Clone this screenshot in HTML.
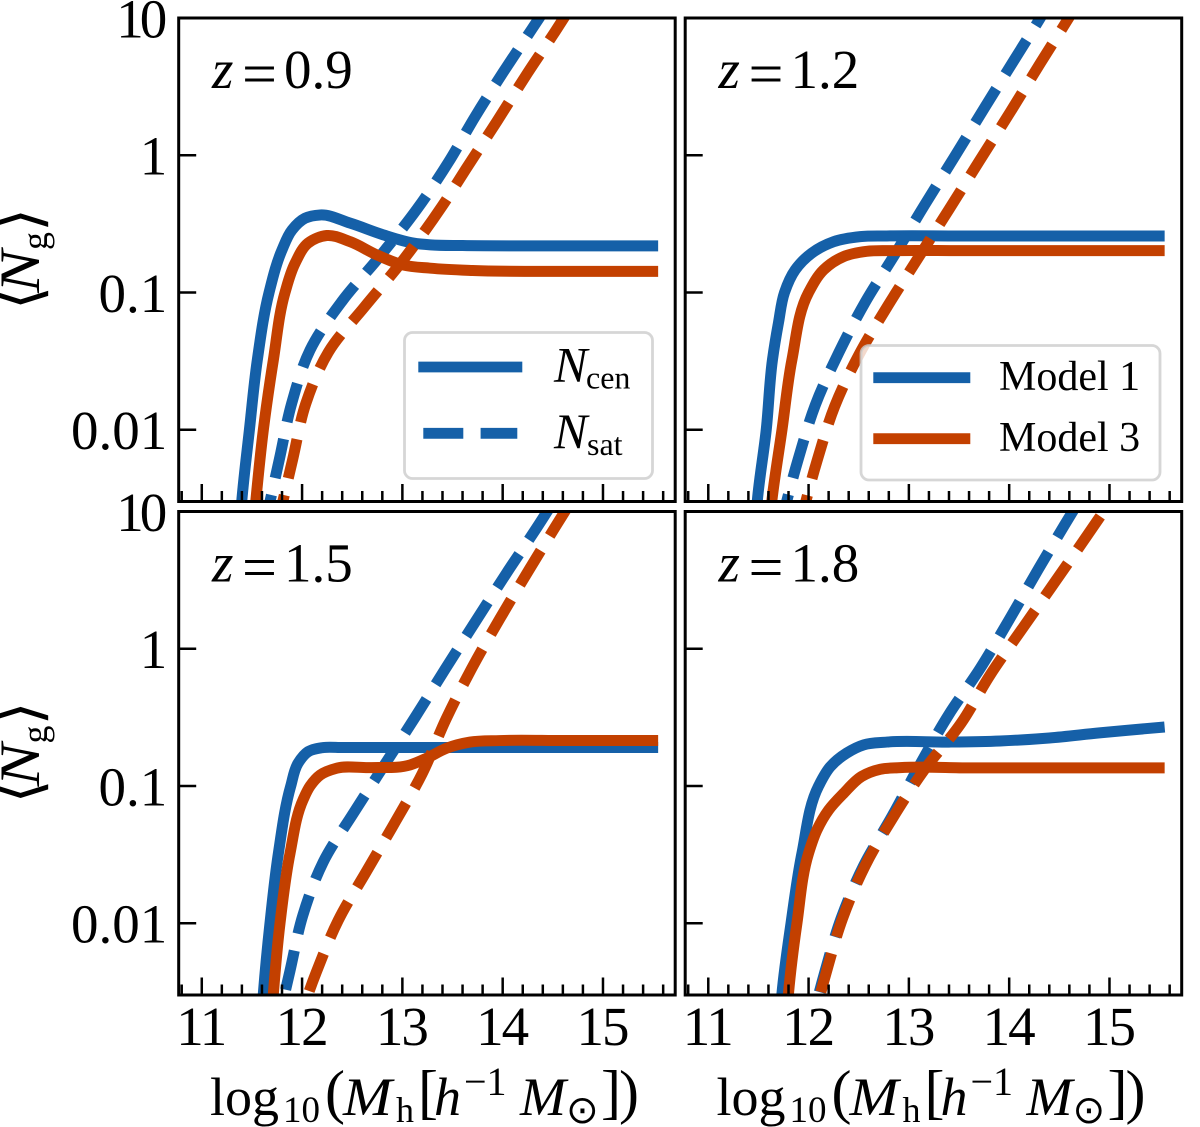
<!DOCTYPE html>
<html lang="en">
<head>
<meta charset="utf-8">
<title>Halo occupation panels</title>
<style>
  html, body { margin: 0; padding: 0; background: #fff; }
  svg { display: block; }
  text { font-family: "Liberation Serif", "DejaVu Serif", serif; fill: #000; }
  .it { font-style: italic; }
  .sym { font-family: "DejaVu Sans", "Liberation Serif", sans-serif; }
</style>
</head>
<body>
<svg id="figure" xmlns="http://www.w3.org/2000/svg" width="1200" height="1127" viewBox="0 0 1200 1127">
  <rect x="0" y="0" width="1200" height="1127" fill="#fff"/>
  <g id="panels"></g>

  <!-- Redshift labels -->
  <g font-size="55"><text class="it" x="212" y="88">z</text><text x="242" y="94" font-size="60" textLength="35" lengthAdjust="spacingAndGlyphs">=</text><text x="284" y="88">0.9</text></g>
  <g font-size="55"><text class="it" x="718.5" y="88">z</text><text x="748.5" y="94" font-size="60" textLength="35" lengthAdjust="spacingAndGlyphs">=</text><text x="790.5" y="88">1.2</text></g>
  <g font-size="55"><text class="it" x="212" y="581.5">z</text><text x="242" y="587.5" font-size="60" textLength="35" lengthAdjust="spacingAndGlyphs">=</text><text x="284" y="581.5">1.5</text></g>
  <g font-size="55"><text class="it" x="718.5" y="581.5">z</text><text x="748.5" y="587.5" font-size="60" textLength="35" lengthAdjust="spacingAndGlyphs">=</text><text x="790.5" y="581.5">1.8</text></g>

  <!-- Legend: line style -->
  <g>
    <rect x="404.5" y="332.5" width="248" height="146" rx="8" ry="8" fill="#fff" fill-opacity="0.8" stroke="#ccc" stroke-opacity="0.8" stroke-width="2.8"/>
    <line x1="418.3" y1="367" x2="522.3" y2="367" stroke="#1560a8" stroke-width="10.8"/>
    <line x1="423.3" y1="433.3" x2="517.3" y2="433.3" stroke="#1560a8" stroke-width="10.8" stroke-dasharray="40 17.3"/>
    <text x="554" y="381.7"><tspan class="it" font-size="50">N</tspan><tspan x="586" y="388.5" font-size="32">cen</tspan></text>
    <text x="554" y="448"><tspan class="it" font-size="50">N</tspan><tspan x="587" y="455" font-size="32">sat</tspan></text>
  </g>

  <!-- Legend: models -->
  <g>
    <rect x="861" y="345.5" width="299" height="134.5" rx="8" ry="8" fill="#fff" fill-opacity="0.8" stroke="#ccc" stroke-opacity="0.8" stroke-width="2.8"/>
    <line x1="873.3" y1="377.7" x2="970.3" y2="377.7" stroke="#1560a8" stroke-width="10.8"/>
    <line x1="873.3" y1="438.7" x2="970.3" y2="438.7" stroke="#c34000" stroke-width="10.8"/>
    <text x="999" y="390" font-size="42">Model 1</text>
    <text x="999" y="451" font-size="42">Model 3</text>
  </g>

  <!-- X axis titles -->
  <g>
    <text x="210" y="1115" font-size="54">log</text>
    <text x="283" y="1122" font-size="37">10</text>
    <text x="325" y="1112" font-size="60">(</text>
    <text class="it" x="343" y="1115" font-size="54" textLength="49" lengthAdjust="spacingAndGlyphs">M</text>
    <text x="396" y="1122" font-size="36">h</text>
    <text x="418" y="1112" font-size="60">[</text>
    <text class="it" x="434" y="1115" font-size="54">h</text>
    <text x="464" y="1095" font-size="40">−1</text>
    <text class="it" x="520" y="1115" font-size="54" textLength="46" lengthAdjust="spacingAndGlyphs">M</text>
    <text class="sym" x="566" y="1123" font-size="39">⊙</text>
    <text x="601" y="1112" font-size="60">]</text>
    <text x="619" y="1112" font-size="60">)</text>
  </g>
  <g transform="translate(506.5 0)">
    <text x="210" y="1115" font-size="54">log</text>
    <text x="283" y="1122" font-size="37">10</text>
    <text x="325" y="1112" font-size="60">(</text>
    <text class="it" x="343" y="1115" font-size="54" textLength="49" lengthAdjust="spacingAndGlyphs">M</text>
    <text x="396" y="1122" font-size="36">h</text>
    <text x="418" y="1112" font-size="60">[</text>
    <text class="it" x="434" y="1115" font-size="54">h</text>
    <text x="464" y="1095" font-size="40">−1</text>
    <text class="it" x="520" y="1115" font-size="54" textLength="46" lengthAdjust="spacingAndGlyphs">M</text>
    <text class="sym" x="566" y="1123" font-size="39">⊙</text>
    <text x="601" y="1112" font-size="60">]</text>
    <text x="619" y="1112" font-size="60">)</text>
  </g>

  <!-- Y axis titles -->
  <g transform="translate(39 305) rotate(-90)">
    <text class="sym" x="-5" y="1" font-size="62">⟨</text>
    <text class="it" x="12" y="0" font-size="57" textLength="43" lengthAdjust="spacingAndGlyphs">N</text>
    <text x="55" y="8" font-size="36">g</text>
    <text class="sym" x="73" y="1" font-size="62">⟩</text>
  </g>
  <g transform="translate(39 798.5) rotate(-90)">
    <text class="sym" x="-5" y="1" font-size="62">⟨</text>
    <text class="it" x="12" y="0" font-size="57" textLength="43" lengthAdjust="spacingAndGlyphs">N</text>
    <text x="55" y="8" font-size="36">g</text>
    <text class="sym" x="73" y="1" font-size="62">⟩</text>
  </g>
</svg>

<script>
// ---- Axis tick data ----
const xMajorTicks = [11, 12, 13, 14, 15];
const xMinorTicks = [10.8, 11.2, 11.4, 11.6, 11.8, 12.2, 12.4, 12.6, 12.8, 13.2, 13.4, 13.6, 13.8, 14.2, 14.4, 14.6, 14.8, 15.2, 15.4, 15.6];
const xTickLabels = ['11', '12', '13', '14', '15'];
const yTickValues = [10, 1, 0.1, 0.01];
const yTickLabels = ['10', '1', '0.1', '0.01'];
const xLimits = [10.77, 15.72];
const yLimits = [0.003, 10];

// ---- z = 0.9 (log10 Mh, log10 <N>) ----
const z09Model1CenMass = [11.375, 11.40, 11.475, 11.554, 11.671, 11.80, 11.90, 12.03, 12.18, 12.48, 12.81, 13.11, 13.28, 13.6, 14.5, 15.55];
const z09Model1CenLogN = [-2.75, -2.51, -2.0, -1.49, -1.0, -0.69, -0.544, -0.459, -0.435, -0.495, -0.58, -0.64, -0.653, -0.658, -0.66, -0.66];
const z09Model3CenMass = [11.51, 11.54, 11.614, 11.714, 11.83, 11.93, 12.06, 12.246, 12.48, 12.745, 13.01, 13.28, 13.7, 14.5, 15.55];
const z09Model3CenLogN = [-2.75, -2.51, -2.0, -1.49, -1.0, -0.787, -0.64, -0.585, -0.63, -0.726, -0.80, -0.823, -0.84, -0.846, -0.846];
const z09Model1SatMass = [11.608, 11.774, 11.897, 12.08, 12.396, 12.76, 13.147, 13.459, 13.725, 14.031, 14.29, 14.5];
const z09Model1SatLogN = [-2.76, -2.214, -1.806, -1.418, -1.066, -0.75, -0.391, -0.051, 0.281, 0.634, 0.918, 1.15];
const z09Model3SatMass = [11.732, 11.907, 12.037, 12.262, 12.62, 12.977, 13.393, 13.632, 13.941, 14.246, 14.522, 14.75];
const z09Model3SatLogN = [-2.76, -2.214, -1.81, -1.435, -1.107, -0.792, -0.374, -0.102, 0.245, 0.597, 0.9, 1.16];

// ---- z = 1.2 ----
const z12Model1CenMass = [11.465, 11.49, 11.578, 11.64, 11.70, 11.76, 11.867, 12.03, 12.25, 12.515, 12.78, 13.5, 14.5, 15.55];
const z12Model1CenLogN = [-2.75, -2.51, -2.0, -1.49, -1.22, -1.0, -0.835, -0.714, -0.63, -0.593, -0.588, -0.588, -0.588, -0.588];
const z12Model3CenMass = [11.60, 11.635, 11.735, 11.834, 12.0, 12.15, 12.35, 12.58, 12.85, 13.5, 14.5, 15.55];
const z12Model3CenLogN = [-2.75, -2.51, -2.0, -1.49, -1.0, -0.835, -0.738, -0.70, -0.695, -0.695, -0.695, -0.695];
const z12Model1SatMass = [11.698, 11.897, 12.067, 12.3, 12.565, 12.854, 13.157, 13.456, 13.755, 14.054, 14.31, 14.5];
const z12Model1SatLogN = [-2.755, -2.214, -1.82, -1.44, -1.07, -0.73, -0.362, -0.01, 0.347, 0.699, 1.0, 1.23];
const z12Model3SatMass = [11.887, 12.087, 12.26, 12.505, 12.79, 13.097, 13.403, 13.705, 14.011, 14.31, 14.61, 14.8];
const z12Model3SatLogN = [-2.76, -2.22, -1.83, -1.45, -1.097, -0.743, -0.391, -0.039, 0.315, 0.67, 1.02, 1.25];

// ---- z = 1.5 ----
const z15Model1CenMass = [11.59, 11.614, 11.68, 11.764, 11.887, 11.96, 12.06, 12.21, 12.4, 13.0, 14.0, 15.55];
const z15Model1CenLogN = [-2.75, -2.51, -2.0, -1.49, -1.0, -0.834, -0.75, -0.72, -0.72, -0.72, -0.72, -0.72];
const z15Model3CenMass = [11.69, 11.714, 11.78, 11.88, 12.01, 12.08, 12.18, 12.346, 12.68, 13.08, 13.243, 13.44, 13.675, 13.97, 14.6, 15.55];
const z15Model3CenLogN = [-2.75, -2.51, -2.0, -1.49, -1.10, -1.0, -0.92, -0.87, -0.866, -0.846, -0.797, -0.725, -0.68, -0.669, -0.669, -0.669];
const z15Model1SatMass = [11.708, 11.88, 12.007, 12.21, 12.508, 12.81, 13.127, 13.426, 13.732, 14.041, 14.34, 14.65];
const z15Model1SatLogN = [-2.891, -2.345, -1.944, -1.555, -1.203, -0.859, -0.499, -0.149, 0.202, 0.554, 0.882, 1.24];
const z15Model3SatMass = [11.886, 12.14, 12.36, 12.645, 12.93, 13.196, 13.436, 13.692, 13.974, 14.266, 14.532, 14.8];
const z15Model3SatLogN = [-2.889, -2.36, -1.98, -1.618, -1.26, -0.912, -0.511, -0.142, 0.222, 0.579, 0.897, 1.21];

// ---- z = 1.8 ----
const z18Model1CenMass = [11.71, 11.735, 11.825, 11.934, 12.1, 12.216, 12.38, 12.55, 12.78, 13.4, 13.91, 14.4, 14.9, 15.55];
const z18Model1CenLogN = [-2.75, -2.51, -2.0, -1.49, -1.0, -0.86, -0.76, -0.70, -0.68, -0.68, -0.672, -0.65, -0.613, -0.57];
const z18Model3CenMass = [11.775, 11.80, 11.884, 12.0, 12.084, 12.2, 12.35, 12.53, 12.716, 12.914, 13.6, 14.5, 15.55];
const z18Model3CenLogN = [-2.75, -2.51, -2.0, -1.49, -1.32, -1.175, -1.053, -0.93, -0.878, -0.866, -0.868, -0.868, -0.868];
const z18Model1SatMass = [11.966, 12.159, 12.325, 12.548, 12.83, 13.114, 13.396, 13.712, 14.004, 14.29, 14.552, 14.8];
const z18Model1SatLogN = [-2.906, -2.364, -1.963, -1.582, -1.223, -0.839, -0.482, -0.142, 0.217, 0.579, 0.902, 1.2];
const z18Model3SatMass = [11.981, 12.174, 12.34, 12.563, 12.847, 13.153, 13.52, 13.81, 14.138, 14.463, 14.786, 15.1];
const z18Model3SatLogN = [-2.906, -2.364, -1.963, -1.582, -1.223, -0.883, -0.543, -0.191, 0.154, 0.494, 0.834, 1.17];

const SVG_NS = 'http://www.w3.org/2000/svg';
const BLUE = '#1560a8';
const RED = '#c34000';
const LINE_WIDTH = 11;
const panelsRoot = document.getElementById('panels');

function make(tag, attrs, parent) {
  const el = document.createElementNS(SVG_NS, tag);
  for (const k in attrs) el.setAttribute(k, attrs[k]);
  parent.appendChild(el);
  return el;
}

// Smooth chord-length parameterised cubic through the points
function smoothPath(pts) {
  const n = pts.length;
  const d = [];
  for (let i = 0; i < n - 1; i++) {
    d[i] = Math.hypot(pts[i + 1][0] - pts[i][0], pts[i + 1][1] - pts[i][1]) || 1;
  }
  const tan = [];
  tan[0] = [(pts[1][0] - pts[0][0]) / d[0], (pts[1][1] - pts[0][1]) / d[0]];
  tan[n - 1] = [(pts[n - 1][0] - pts[n - 2][0]) / d[n - 2], (pts[n - 1][1] - pts[n - 2][1]) / d[n - 2]];
  for (let i = 1; i < n - 1; i++) {
    const a = d[i - 1], b = d[i];
    tan[i] = [
      ((pts[i][0] - pts[i - 1][0]) / a * b + (pts[i + 1][0] - pts[i][0]) / b * a) / (a + b),
      ((pts[i][1] - pts[i - 1][1]) / a * b + (pts[i + 1][1] - pts[i][1]) / b * a) / (a + b)
    ];
  }
  let out = 'M' + pts[0][0].toFixed(2) + ' ' + pts[0][1].toFixed(2);
  for (let i = 0; i < n - 1; i++) {
    const c = d[i] / 3;
    out += ' C' + (pts[i][0] + tan[i][0] * c).toFixed(2) + ' ' + (pts[i][1] + tan[i][1] * c).toFixed(2) +
           ' ' + (pts[i + 1][0] - tan[i + 1][0] * c).toFixed(2) + ' ' + (pts[i + 1][1] - tan[i + 1][1] * c).toFixed(2) +
           ' ' + pts[i + 1][0].toFixed(2) + ' ' + pts[i + 1][1].toFixed(2);
  }
  return out;
}

function drawPanel(panelName, left, top, showYLabels, showXLabels, curves) {
  const width = 496.5, height = 483.5;
  const xScale = v => left + (v - xLimits[0]) / (xLimits[1] - xLimits[0]) * width;
  const yLogMin = Math.log10(yLimits[0]), yLogMax = Math.log10(yLimits[1]);
  const yScaleLog = v => top + (yLogMax - v) / (yLogMax - yLogMin) * height;
  const bottom = top + height;

  const g = make('g', {}, panelsRoot);
  
  

  const clipId = panelName + '-clip';
  const clip = make('clipPath', { id: clipId }, g);
  make('rect', { x: left, y: top, width: width, height: height }, clip);

  const lines = make('g', { 'clip-path': 'url(#' + clipId + ')' }, g);
  
  

  curves.forEach(c => {
    const pts = c.mass.map((m, i) => [xScale(m), yScaleLog(c.logN[i])]);
    const path = make('path', {
      d: smoothPath(pts),
      fill: 'none',
      stroke: c.color,
      'stroke-width': LINE_WIDTH,
      'stroke-dasharray': c.dashed ? '40 17.3' : 'none'
    }, lines);
    
    
  });

  xMinorTicks.forEach(v => {
    const t = make('line', { x1: xScale(v), x2: xScale(v), y1: bottom, y2: bottom - 10.5, stroke: '#000', 'stroke-width': 2.5 }, g);
    
    
  });
  xMajorTicks.forEach((v, i) => {
    const t = make('line', { x1: xScale(v), x2: xScale(v), y1: bottom, y2: bottom - 17.5, stroke: '#000', 'stroke-width': 2.5 }, g);
    
    
    if (showXLabels) {
      const label = make('text', { x: xScale(v) - 1, y: bottom + 50, 'text-anchor': 'middle', 'font-size': 55, 'letter-spacing': -2 }, g);
      label.textContent = xTickLabels[i];
      
      
    }
  });
  yTickValues.forEach((v, i) => {
    const py = yScaleLog(Math.log10(v));
    const t = make('line', { x1: left, x2: left + 17.5, y1: py, y2: py, stroke: '#000', 'stroke-width': 2.5 }, g);
    
    
    if (showYLabels) {
      const isDecimal = yTickLabels[i].indexOf('.') >= 0;
      const label = make('text', { x: left - (isDecimal ? 11.5 : 15.5), y: py + 19.5, 'text-anchor': 'end', 'font-size': 55, 'letter-spacing': isDecimal ? 0 : -4 }, g);
      label.textContent = yTickLabels[i];
      
      
    }
  });

  const frame = make('rect', { x: left, y: top, width: width, height: height, fill: 'none', stroke: '#000', 'stroke-width': 3 }, g);
  
  
}

drawPanel('panel-z09', 178.7, 18, true, false, [
  { name: 'model-1-ncen', mass: z09Model1CenMass, logN: z09Model1CenLogN, color: BLUE, dashed: false },
  { name: 'model-1-nsat', mass: z09Model1SatMass, logN: z09Model1SatLogN, color: BLUE, dashed: true },
  { name: 'model-3-ncen', mass: z09Model3CenMass, logN: z09Model3CenLogN, color: RED, dashed: false },
  { name: 'model-3-nsat', mass: z09Model3SatMass, logN: z09Model3SatLogN, color: RED, dashed: true }
]);
drawPanel('panel-z12', 685.2, 18, false, false, [
  { name: 'model-1-ncen', mass: z12Model1CenMass, logN: z12Model1CenLogN, color: BLUE, dashed: false },
  { name: 'model-1-nsat', mass: z12Model1SatMass, logN: z12Model1SatLogN, color: BLUE, dashed: true },
  { name: 'model-3-ncen', mass: z12Model3CenMass, logN: z12Model3CenLogN, color: RED, dashed: false },
  { name: 'model-3-nsat', mass: z12Model3SatMass, logN: z12Model3SatLogN, color: RED, dashed: true }
]);
drawPanel('panel-z15', 178.7, 511.5, true, true, [
  { name: 'model-1-ncen', mass: z15Model1CenMass, logN: z15Model1CenLogN, color: BLUE, dashed: false },
  { name: 'model-1-nsat', mass: z15Model1SatMass, logN: z15Model1SatLogN, color: BLUE, dashed: true },
  { name: 'model-3-ncen', mass: z15Model3CenMass, logN: z15Model3CenLogN, color: RED, dashed: false },
  { name: 'model-3-nsat', mass: z15Model3SatMass, logN: z15Model3SatLogN, color: RED, dashed: true }
]);
drawPanel('panel-z18', 685.2, 511.5, false, true, [
  { name: 'model-1-ncen', mass: z18Model1CenMass, logN: z18Model1CenLogN, color: BLUE, dashed: false },
  { name: 'model-1-nsat', mass: z18Model1SatMass, logN: z18Model1SatLogN, color: BLUE, dashed: true },
  { name: 'model-3-ncen', mass: z18Model3CenMass, logN: z18Model3CenLogN, color: RED, dashed: false },
  { name: 'model-3-nsat', mass: z18Model3SatMass, logN: z18Model3SatLogN, color: RED, dashed: true }
]);
</script>
</body>
</html>
